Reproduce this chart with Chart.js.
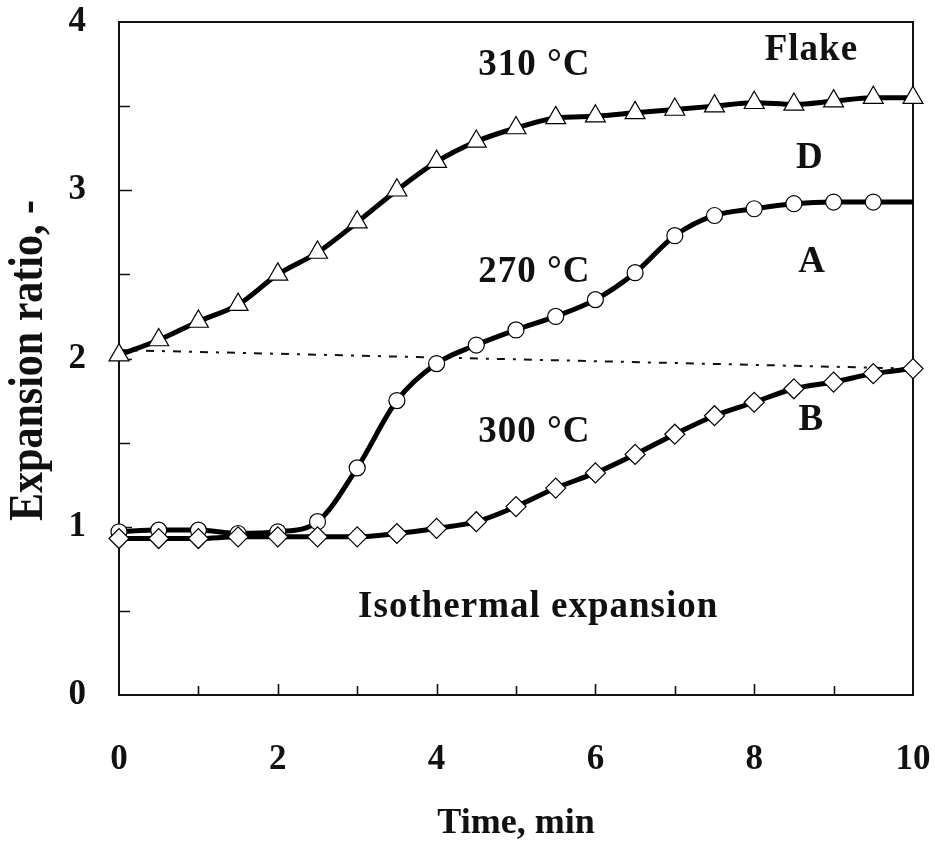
<!DOCTYPE html>
<html>
<head>
<meta charset="utf-8">
<script src="https://cdn.jsdelivr.net/npm/chart.js@4.4.1/dist/chart.umd.min.js"></script>
<style>
  html, body { margin: 0; padding: 0; background: #fff; }
  #wrap { width: 935px; height: 847px; }
</style>
</head>
<body>
<div id="wrap"><canvas id="expansionChart" width="935" height="847"></canvas></div>
<script>
// time in minutes, one reading every half minute
const timeSteps = [0, 0.5, 1, 1.5, 2, 2.5, 3, 3.5, 4, 4.5, 5, 5.5, 6, 6.5, 7, 7.5, 8, 8.5, 9, 9.5, 10];

// expansion ratio per run
const flake310 = [2.02, 2.11, 2.22, 2.32, 2.50, 2.63, 2.81, 3.00, 3.17, 3.29, 3.37, 3.43, 3.44, 3.46, 3.48, 3.50, 3.52, 3.51, 3.53, 3.55, 3.55];
const run270 = [0.97, 0.98, 0.98, 0.96, 0.97, 1.03, 1.35, 1.75, 1.97, 2.08, 2.17, 2.25, 2.35, 2.51, 2.73, 2.85, 2.89, 2.92, 2.93, 2.93, 2.93];
const run300 = [0.93, 0.93, 0.93, 0.94, 0.94, 0.94, 0.94, 0.96, 0.99, 1.03, 1.12, 1.23, 1.32, 1.43, 1.55, 1.66, 1.74, 1.82, 1.86, 1.91, 1.94];

// dash-dot reference line
const baseTime = [0, 10];
const baseRatio = [2.05, 1.94];

// axis ticks
const xTicks = [0, 2, 4, 6, 8, 10];
const xMinorTicks = [1, 2, 3, 4, 5, 6, 7, 8, 9];
const yTicks = [0, 1, 2, 3, 4];
const yMinorTicks = [0.5, 1, 1.5, 2, 2.5, 3, 3.5];

// curve labels and axis title
const curveLabels = ['310 °C', 'Flake', 'D', '270 °C', 'A', '300 °C', 'B', 'Isothermal expansion'];
const yTitle = 'Expansion ratio, -';

const serif = "'Liberation Serif', 'Times New Roman', serif";

function toPoints(xs, ys) {
    return xs.map((x, i) => ({ x: x, y: ys[i] }));
}

// the last 270 °C reading carries no marker
const run270Radius = timeSteps.map((t, i) => i === timeSteps.length - 1 ? 0 : 8);

// box around the plot and inward tick marks
const framePlugin = {
    id: 'frame',
    beforeDatasetsDraw(chart) {
        const { ctx, chartArea: a, scales: { x, y } } = chart;
        ctx.save();
        ctx.strokeStyle = '#111';
        ctx.lineWidth = 2;
        ctx.strokeRect(a.left, a.top, a.right - a.left, a.bottom - a.top);

        ctx.lineWidth = 1.6;
        ctx.beginPath();
        yMinorTicks.forEach(v => {
            const py = Math.round(y.getPixelForValue(v)) + 0.5;
            const len = Number.isInteger(v) ? 13 : 11;
            ctx.moveTo(a.left, py);
            ctx.lineTo(a.left + len, py);
        });
        xMinorTicks.forEach(v => {
            const px = Math.round(x.getPixelForValue(v)) + 0.5;
            const len = v % 2 === 0 ? 11 : 9;
            ctx.moveTo(px, a.bottom);
            ctx.lineTo(px, a.bottom - len);
        });
        ctx.stroke();
        ctx.restore();
    }
};

// text placed next to the curves (data units) plus the tall y title
const labelPlugin = {
    id: 'curveLabels',
    afterDraw(chart) {
        const { ctx, chartArea: a, scales: { x, y } } = chart;
        const spots = [
            [5.23, 3.74], [8.72, 3.83], [8.70, 3.19], [5.23, 2.51],
            [8.73, 2.57], [5.23, 1.56], [8.72, 1.63], [5.28, 0.52]
        ];
        ctx.save();
        ctx.fillStyle = '#111';
        ctx.font = 'bold 37px ' + serif;
        ctx.letterSpacing = '1px';
        ctx.textAlign = 'center';
        ctx.textBaseline = 'middle';
        curveLabels.forEach((txt, i) => {
            ctx.fillText(txt, x.getPixelForValue(spots[i][0]), y.getPixelForValue(spots[i][1]));
        });
        ctx.restore();

        ctx.save();
        ctx.fillStyle = '#111';
        ctx.font = 'bold 42px ' + serif;
        ctx.textAlign = 'center';
        ctx.textBaseline = 'middle';
        ctx.translate(30, (a.top + a.bottom) / 2 + 2);
        ctx.rotate(-Math.PI / 2);
        ctx.scale(1, 1.15);
        ctx.fillText(yTitle, 0, 0);
        ctx.restore();
    }
};

const ctx = document.getElementById('expansionChart').getContext('2d');
new Chart(ctx, {
    type: 'line',
    data: {
        datasets: [
            {
                label: '300 °C',
                data: toPoints(timeSteps, run300),
                borderColor: '#000',
                borderWidth: 5,
                cubicInterpolationMode: 'monotone',
                pointStyle: 'rectRot',
                pointRadius: 10,
                pointBackgroundColor: '#fff',
                pointBorderColor: '#000',
                pointBorderWidth: 1.2,
                clip: false
            },
            {
                label: '270 °C',
                data: toPoints(timeSteps, run270),
                borderColor: '#000',
                borderWidth: 5,
                cubicInterpolationMode: 'monotone',
                pointStyle: 'circle',
                pointRadius: run270Radius,
                pointBackgroundColor: '#fff',
                pointBorderColor: '#000',
                pointBorderWidth: 1.2,
                clip: false
            },
            {
                label: '310 °C',
                data: toPoints(timeSteps, flake310),
                borderColor: '#000',
                borderWidth: 5,
                cubicInterpolationMode: 'monotone',
                pointStyle: 'triangle',
                pointRadius: 11.5,
                pointBackgroundColor: '#fff',
                pointBorderColor: '#000',
                pointBorderWidth: 1.2,
                clip: false
            },
            {
                label: 'baseline',
                data: toPoints(baseTime, baseRatio),
                borderColor: '#111',
                borderWidth: 2,
                borderDash: [8, 8, 3, 8],
                pointRadius: 0
            }
        ]
    },
    options: {
        responsive: false,
        animation: false,
        devicePixelRatio: 1,
        layout: {
            padding: { top: 22, right: 22, left: 0, bottom: 0 }
        },
        plugins: {
            legend: { display: false },
            tooltip: { enabled: false }
        },
        scales: {
            x: {
                type: 'linear',
                min: 0,
                max: 10,
                afterFit: scale => {
                    scale.height = 152;
                    scale.paddingLeft = 0;
                    scale.paddingRight = 0;
                },
                afterBuildTicks: scale => { scale.ticks = xTicks.map(v => ({ value: v })); },
                grid: { display: false, drawTicks: false },
                border: { display: false },
                ticks: {
                    color: '#111',
                    padding: 44,
                    maxRotation: 0,
                    font: { family: serif, size: 35, weight: 'bold' }
                },
                title: {
                    display: true,
                    text: 'Time, min',
                    color: '#111',
                    padding: { top: 0, bottom: 2 },
                    font: { family: serif, size: 36, weight: 'bold' }
                }
            },
            y: {
                type: 'linear',
                min: 0,
                max: 4,
                afterFit: scale => {
                    scale.width = 119;
                    scale.paddingTop = 0;
                    scale.paddingBottom = 0;
                },
                afterBuildTicks: scale => { scale.ticks = yTicks.map(v => ({ value: v })); },
                grid: { display: false, drawTicks: false },
                border: { display: false },
                ticks: {
                    color: '#111',
                    padding: 33,
                    font: { family: serif, size: 35, weight: 'bold' }
                },
                title: { display: false }
            }
        }
    },
    plugins: [framePlugin, labelPlugin]
});
</script>
</body>
</html>
